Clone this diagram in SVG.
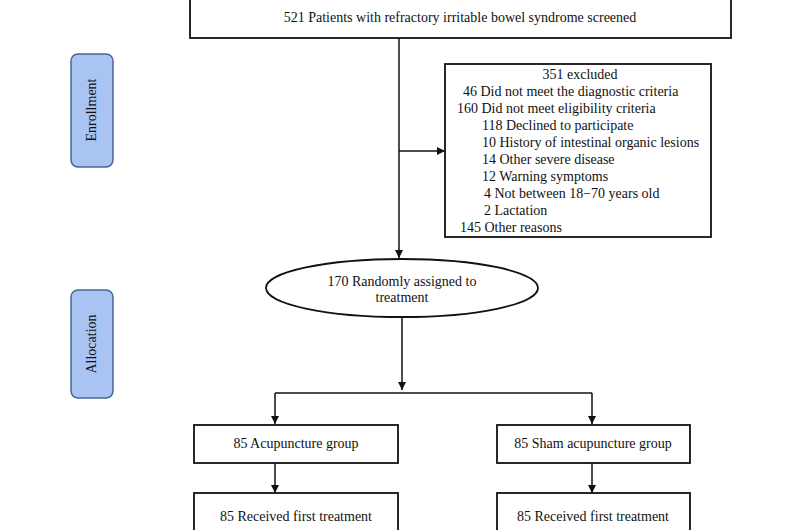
<svg xmlns="http://www.w3.org/2000/svg" width="800" height="530" viewBox="0 0 800 530">
<defs>
<style>
text{font-family:"Liberation Serif","Times New Roman",serif;font-size:14px;fill:#111}
.box{fill:#fff;stroke:#111;stroke-width:1.8}
.stage{fill:#a9c3f2;stroke:#4a6596;stroke-width:1.5}
.ln{fill:none;stroke:#111;stroke-width:1.5}
.c{text-anchor:middle}
</style>
<marker id="ah" viewBox="0 0 10 10" refX="10" refY="5" markerWidth="9" markerHeight="8" markerUnits="userSpaceOnUse" orient="auto">
<path d="M0,0 L10,5 L0,10 z" fill="#111"/>
</marker>
</defs>
<rect width="800" height="530" fill="#fff"/>
<g id="connectors">
<path class="ln" d="M399,38 V258" marker-end="url(#ah)"/>
<path class="ln" d="M399,151 H445" marker-end="url(#ah)"/>
<path class="ln" d="M402,317 V390" marker-end="url(#ah)"/>
<path class="ln" d="M275,393 H592"/>
<path class="ln" d="M275,393 V424" marker-end="url(#ah)"/>
<path class="ln" d="M592,393 V424" marker-end="url(#ah)"/>
<path class="ln" d="M275,463 V493" marker-end="url(#ah)"/>
<path class="ln" d="M592,463 V493" marker-end="url(#ah)"/>
</g>
<g id="enrollment">
<rect class="stage" x="71" y="54" width="42" height="113" rx="7"/>
<text class="c" transform="translate(96,110) rotate(-90)">Enrollment</text>
</g>
<g id="allocation">
<rect class="stage" x="71" y="290" width="42" height="108" rx="7"/>
<text class="c" transform="translate(96,344) rotate(-90)">Allocation</text>
</g>
<g id="screened">
<rect class="box" x="190" y="-2" width="541" height="40"/>
<text class="c" x="460" y="22">521 Patients with refractory irritable bowel syndrome screened</text>
</g>
<g id="excluded">
<rect class="box" x="445" y="64" width="266" height="173"/>
<text class="c" x="580" y="79">351 excluded</text>
<text x="463" y="96">46  Did not meet the diagnostic criteria</text>
<text x="457" y="113">160  Did not meet eligibility criteria</text>
<text x="482" y="130">118 Declined to participate</text>
<text x="482" y="147">10 History of intestinal organic lesions</text>
<text x="482" y="164">14 Other severe disease</text>
<text x="482" y="181">12 Warning symptoms</text>
<text x="484" y="198">4  Not between 18−70 years old</text>
<text x="484" y="215">2  Lactation</text>
<text x="460" y="232">145 Other reasons</text>
</g>
<g id="randomized">
<ellipse class="box" cx="402" cy="288" rx="136" ry="29"/>
<text class="c" x="402" y="286">170 Randomly assigned to</text>
<text class="c" x="402" y="302">treatment</text>
</g>
<g id="acupuncture">
<rect class="box" x="194" y="425" width="204" height="38"/>
<text class="c" x="296" y="448">85 Acupuncture group</text>
</g>
<g id="sham">
<rect class="box" x="497" y="425" width="193" height="38"/>
<text class="c" x="593" y="448">85 Sham acupuncture group</text>
</g>
<g id="acu-first">
<rect class="box" x="194" y="493" width="204" height="45"/>
<text class="c" x="296" y="521">85 Received first treatment</text>
</g>
<g id="sham-first">
<rect class="box" x="497" y="493" width="193" height="45"/>
<text class="c" x="593" y="521">85 Received first treatment</text>
</g>
</svg>
